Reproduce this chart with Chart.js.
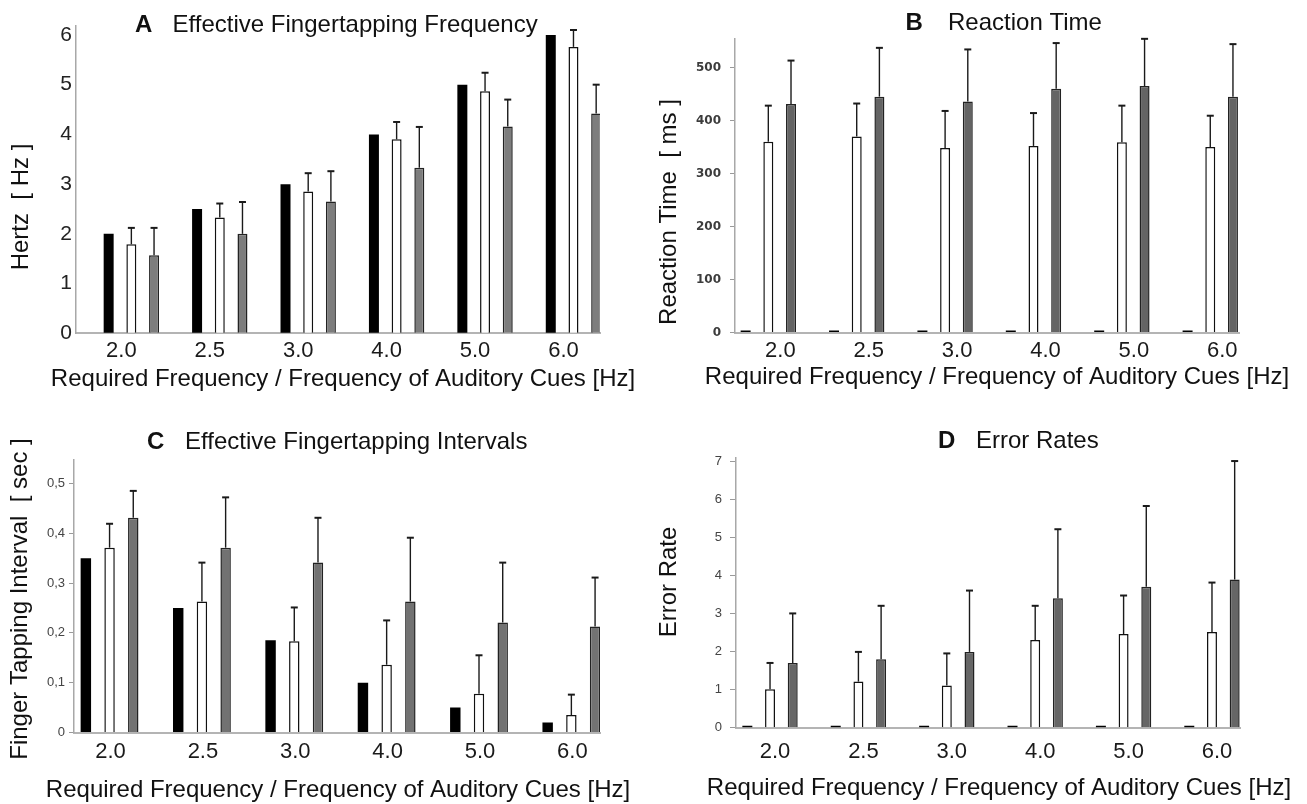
<!DOCTYPE html>
<html>
<head>
<meta charset="utf-8">
<script src="https://cdn.jsdelivr.net/npm/chart.js@4.4.1/dist/chart.umd.min.js"></script>
<style>
html,body{margin:0;padding:0;background:#fff;}
#wrap{position:relative;width:1307px;height:804px;overflow:hidden;background:#fff;}
canvas{position:absolute;}
</style>
</head>
<body>
<div id="wrap">
<canvas id="cA" width="653" height="402" style="left:0;top:0"></canvas>
<canvas id="cB" width="654" height="402" style="left:653px;top:0"></canvas>
<canvas id="cC" width="653" height="402" style="left:0;top:402px"></canvas>
<canvas id="cD" width="654" height="402" style="left:653px;top:402px"></canvas>
</div>
<script>
// ---------- data ----------
const categories = ['2.0', '2.5', '3.0', '4.0', '5.0', '6.0'];
const seriesNames = ['Required / cue', 'Group 1', 'Group 2'];

// A: Effective fingertapping frequency (Hz)
const freqRequired = [2.0, 2.5, 3.0, 4.0, 5.0, 6.0];
const freqGroup1 = [1.79, 2.33, 2.85, 3.90, 4.87, 5.76];
const freqGroup1Err = [2.12, 2.61, 3.22, 4.25, 5.24, 6.10];
const freqGroup2 = [1.57, 2.00, 2.65, 3.33, 4.16, 4.42];
const freqGroup2Err = [2.12, 2.64, 3.26, 4.15, 4.70, 5.00];

// B: Reaction time (ms)
const rtCue = [0, 0, 0, 0, 0, 0];
const rtGroup1 = [360, 370, 348, 352, 359, 350];
const rtGroup1Err = [428, 432, 418, 414, 428, 409];
const rtGroup2 = [431, 445, 436, 460, 465, 445];
const rtGroup2Err = [513, 537, 534, 546, 554, 544];

// C: Effective fingertapping intervals (sec)
const intRequired = [0.35, 0.25, 0.185, 0.10, 0.05, 0.02];
const intGroup1 = [0.371, 0.263, 0.183, 0.136, 0.078, 0.035];
const intGroup1Err = [0.419, 0.341, 0.251, 0.225, 0.155, 0.076];
const intGroup2 = [0.431, 0.371, 0.341, 0.263, 0.221, 0.213];
const intGroup2Err = [0.485, 0.472, 0.431, 0.391, 0.341, 0.311];
const intTickLabels = ['0', '0,1', '0,2', '0,3', '0,4', '0,5'];

// D: Error rates
const errCue = [0, 0, 0, 0, 0, 0];
const errGroup1 = [1.01, 1.21, 1.11, 2.30, 2.46, 2.51];
const errGroup1Err = [1.70, 1.99, 1.95, 3.20, 3.47, 3.81];
const errGroup2 = [1.70, 1.80, 1.99, 3.40, 3.70, 3.89];
const errGroup2Err = [3.00, 3.20, 3.60, 5.21, 5.82, 7.00];

const xAxisTitle = 'Required Frequency / Frequency of Auditory Cues [Hz]';
// ---------- end data ----------

const F = "'Liberation Sans', Arial, sans-serif";

const errorBars = {
  id: 'errorBars',
  afterDatasetsDraw(chart) {
    const ctx = chart.ctx, ys = chart.scales.y;
    chart.data.datasets.forEach((ds, di) => {
      if (!ds.errTop) return;
      const meta = chart.getDatasetMeta(di);
      meta.data.forEach((bar, i) => {
        const v = ds.errTop[i];
        if (v == null) return;
        const yt = ys.getPixelForValue(v);
        ctx.save();
        ctx.strokeStyle = '#1a1a1a';
        ctx.lineWidth = 1.4;
        ctx.beginPath();
        ctx.moveTo(bar.x, bar.y);
        ctx.lineTo(bar.x, yt);
        ctx.stroke();
        ctx.lineWidth = 2;
        ctx.beginPath();
        ctx.moveTo(bar.x - 3.5, yt);
        ctx.lineTo(bar.x + 3.5, yt);
        ctx.stroke();
        ctx.restore();
      });
    });
  }
};

const panelText = {
  id: 'panelText',
  afterDraw(chart, args, o) {
    const ctx = chart.ctx;
    ctx.save();
    ctx.fillStyle = '#111';
    ctx.textBaseline = 'alphabetic';
    ctx.textAlign = 'left';
    ctx.font = 'bold 24px ' + F;
    ctx.fillText(o.letter, o.letterX, o.baseline);
    ctx.font = '24px ' + F;
    ctx.fillText(o.title, o.titleX, o.baseline);
    ctx.textAlign = 'center';
    ctx.fillText(o.xTitle, o.xTitleX, o.xTitleBaseline);
    ctx.translate(o.yTitleX, o.yTitleY);
    ctx.rotate(-Math.PI / 2);
    ctx.textBaseline = 'middle';
    ctx.fillText(o.yTitle, 0, 0);
    ctx.restore();
  }
};

function pts(arr) { return arr.map((v, i) => ({ x: i, y: v })); }

function makePanel(id, c) {
  const datasets = [
    { label: seriesNames[0], data: pts(c.s0), backgroundColor: '#000', borderWidth: 0, minBarLength: c.zeroDash ? 2 : 0 },
    { label: seriesNames[1], data: pts(c.s1), errTop: c.e1, backgroundColor: '#fff', borderColor: '#111', borderWidth: 1.5 },
    { label: seriesNames[2], data: pts(c.s2), errTop: c.e2, backgroundColor: c.gray, borderColor: '#222', borderWidth: 1.5 }
  ];
  return new Chart(document.getElementById(id), {
    type: 'bar',
    data: { datasets },
    plugins: [errorBars, panelText],
    options: {
      responsive: false,
      animation: false,
      devicePixelRatio: 1,
      layout: { padding: { left: 0, right: c.padRight, top: c.padTop, bottom: 0 } },
      datasets: { bar: { categoryPercentage: 0.77, barPercentage: 0.44, grouped: true } },
      plugins: {
        legend: { display: false },
        tooltip: { enabled: false },
        panelText: c.text
      },
      scales: {
        x: {
          type: 'linear', min: c.xMin, max: c.xMax, offset: false,
          afterBuildTicks: s => { s.ticks = categories.map((_, i) => ({ value: i })); },
          afterFit: s => { s.height = c.xHeight; },
          ticks: { autoSkip: false, maxRotation: 0, padding: c.xTickPad, labelOffset: c.labelOffset,
                   font: { family: F, size: 22 }, color: '#1a1a1a',
                   callback: (v) => categories[v] },
          grid: { display: true, drawOnChartArea: false, drawTicks: false },
          border: { display: true, color: '#b4b4b4', width: 2 },
          title: { display: false, text: xAxisTitle }
        },
        y: {
          min: 0, max: c.yMax,
          afterFit: s => { s.width = c.yWidth; },
          ticks: { stepSize: c.yStep, includeBounds: false, padding: c.yTickPad, font: c.yFont, color: c.yColor,
                   callback: c.yCallback },
          grid: { display: true, drawOnChartArea: false, drawTicks: c.yTickLen > 0, tickLength: c.yTickLen, color: '#9a9a9a' },
          border: { display: true, color: '#a8a8a8', width: 1.5 }
        }
      }
    }
  });
}

makePanel('cA', {
  s0: freqRequired, s1: freqGroup1, e1: freqGroup1Err, s2: freqGroup2, e2: freqGroup2Err,
  gray: '#7d7d7d', zeroDash: false,
  xMin: -0.626, xMax: 5.30, yMax: 6.18, yStep: 1,
  padRight: 53, padTop: 26, xHeight: 68.7, yWidth: 76,
  xTickPad: 4.8, labelOffset: -10,
  yTickPad: 4, yTickLen: 0, yFont: { family: F, size: 21 }, yColor: '#222',
  yCallback: (v) => String(v),
  text: { letter: 'A', title: 'Effective Fingertapping Frequency', letterX: 135, titleX: 172.6, baseline: 32,
          xTitle: xAxisTitle, xTitleX: 343, xTitleBaseline: 386,
          yTitle: 'Hertz  [ Hz ]', yTitleX: 21, yTitleY: 207 }
});

makePanel('cB', {
  s0: rtCue, s1: rtGroup1, e1: rtGroup1Err, s2: rtGroup2, e2: rtGroup2Err,
  gray: '#646464', zeroDash: true,
  xMin: -0.377, xMax: 5.325, yMax: 555, yStep: 100,
  padRight: 68, padTop: 38.3, xHeight: 69.4, yWidth: 82,
  xTickPad: 5, labelOffset: 12,
  yTickPad: 9, yTickLen: 5, yFont: { family: "'DejaVu Sans', sans-serif", size: 12, weight: 'bold' }, yColor: '#3c3c3c',
  yCallback: (v) => String(v),
  text: { letter: 'B', title: 'Reaction Time', letterX: 252.5, titleX: 295, baseline: 30,
          xTitle: xAxisTitle, xTitleX: 344, xTitleBaseline: 384,
          yTitle: 'Reaction Time  [ ms ]', yTitleX: 16, yTitleY: 212 }
});

makePanel('cC', {
  s0: intRequired, s1: intGroup1, e1: intGroup1Err, s2: intGroup2, e2: intGroup2Err,
  gray: '#727272', zeroDash: false,
  xMin: -0.385, xMax: 5.31, yMax: 0.547, yStep: 0.1,
  padRight: 53, padTop: 58, xHeight: 71.5, yWidth: 74,
  xTickPad: 6.3, labelOffset: 1,
  yTickPad: 4, yTickLen: 5, yFont: { family: F, size: 13 }, yColor: '#444',
  yCallback: (v, i) => intTickLabels[i],
  text: { letter: 'C', title: 'Effective Fingertapping Intervals', letterX: 147, titleX: 185, baseline: 47,
          xTitle: xAxisTitle, xTitleX: 338, xTitleBaseline: 395,
          yTitle: 'Finger Tapping Interval  [ sec ]', yTitleX: 20, yTitleY: 197 }
});

makePanel('cD', {
  s0: errCue, s1: errGroup1, e1: errGroup1Err, s2: errGroup2, e2: errGroup2Err,
  gray: '#666666', zeroDash: true,
  xMin: -0.385, xMax: 5.317, yMax: 7.08, yStep: 1,
  padRight: 67, padTop: 56, xHeight: 76.3, yWidth: 83,
  xTickPad: 11, labelOffset: 5,
  yTickPad: 8, yTickLen: 6, yFont: { family: F, size: 13 }, yColor: '#444',
  yCallback: (v) => String(v),
  text: { letter: 'D', title: 'Error Rates', letterX: 285, titleX: 323, baseline: 46,
          xTitle: xAxisTitle, xTitleX: 346, xTitleBaseline: 393,
          yTitle: 'Error Rate', yTitleX: 16, yTitleY: 180 }
});
</script>
</body>
</html>
